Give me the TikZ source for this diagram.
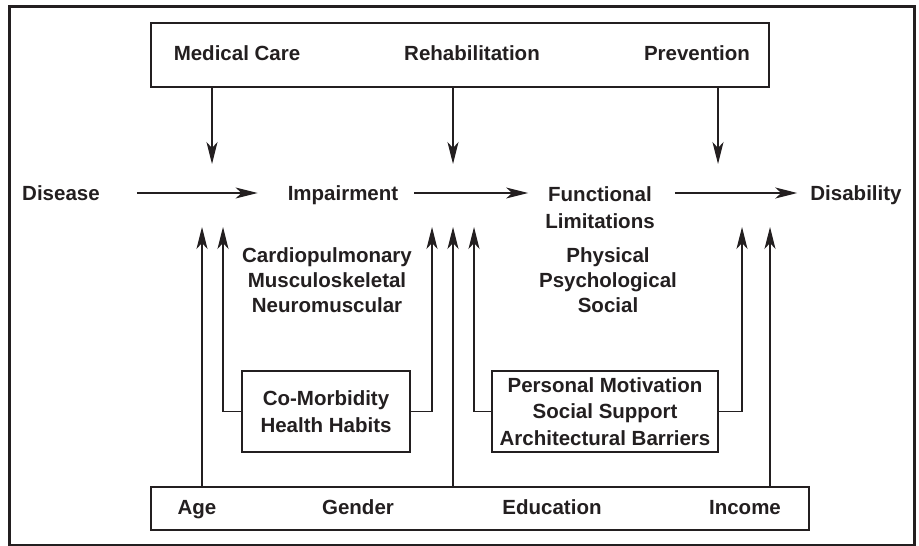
\documentclass[tikz,border=0pt]{standalone}
\usepackage{fontspec}
\setmainfont{Liberation Sans}
\usetikzlibrary{arrows.meta,positioning,calc}
\definecolor{Ink}{RGB}{35, 31, 32}

\begin{document}
\begin{tikzpicture}[x=1pt, y=-1pt, color=Ink,
  lbl/.style={font=\fontsize{20.5}{25}\selectfont\bfseries, inner sep=0pt, text height=15pt, text depth=0pt},
  stack/.style={font=\fontsize{20.5}{25}\selectfont\bfseries, inner sep=0pt, align=center, anchor=north},
  box/.style={draw, line width=1.3pt, inner sep=0pt, align=center, font=\fontsize{20.5}{26.5}\selectfont\bfseries},
  arr/.style={line width=1.2pt, -{Stealth[length=22pt, width=11pt, inset=6pt]}}]
  \useasboundingbox (0,0) rectangle (919,546);

  % Outer frame
  \draw[line width=3pt] (9,6) rectangle (914,545);

  % Interventions
  \node[box, minimum width=618pt, minimum height=64pt] (care) at (460,55) {};
  \node[lbl] (medcare) at (237,53) {Medical Care};
  \node[lbl] (rehab) at (472,53) {Rehabilitation};
  \node[lbl] (prevent) at (697,53) {Prevention};

  % Main pathway
  \node[lbl] (disease) at (61,193) {Disease};
  \node[lbl] (impair) at (343,193) {Impairment};
  \node[stack, font=\fontsize{20.5}{27}\selectfont\bfseries] (funclim) at (600,186) {Functional\\Limitations};
  \node[lbl] (disab) at (856,193) {Disability};

  \draw[arr, shorten <=37pt, shorten >=30pt] (disease.east) -- (impair.west);
  \draw[arr, shorten <=16pt, shorten >=17pt] (impair.east) -- (impair.east -| funclim.west);
  \draw[arr, shorten <=20pt, shorten >=13pt] (disab.west -| funclim.east) -- (disab.west);

  % Sub-types
  \node[stack] (organs) at (327,247) {Cardiopulmonary\\Musculoskeletal\\Neuromuscular};
  \node[stack] (domains) at (608,247) {Physical\\Psychological\\Social};

  % Arrows down from the interventions
  \coordinate (mc tip) at (212,164);
  \coordinate (rh tip) at (453,164);
  \coordinate (pv tip) at (718,164);
  \draw[arr] (care.south -| mc tip) -- (mc tip);
  \draw[arr] (care.south -| rh tip) -- (rh tip);
  \draw[arr] (care.south -| pv tip) -- (pv tip);

  % Modifying factors
  \node[box, minimum width=168pt, minimum height=81pt] (comorb) at (326,411.5) {Co-Morbidity\\Health Habits};
  \node[box, minimum width=226pt, minimum height=81pt] (social) at (605,411.5) {Personal Motivation\\Social Support\\Architectural Barriers};

  \draw[arr] (comorb.west) -| (223,227);
  \draw[arr] (comorb.east) -| (432,227);
  \draw[arr] (social.west) -| (474,227);
  \draw[arr] (social.east) -| (742,227);

  % Demographics
  \node[box, minimum width=658pt, minimum height=43pt] (demog) at (480,508.5) {};
  \node[lbl] (age) at (197,507) {Age};
  \node[lbl] (gender) at (358,507) {Gender};
  \node[lbl] (educ) at (552,507) {Education};
  \node[lbl] (income) at (745,507) {Income};

  \coordinate (ag tip) at (202,227);
  \coordinate (ed tip) at (453,227);
  \coordinate (in tip) at (770,227);
  \draw[arr] (demog.north -| ag tip) -- (ag tip);
  \draw[arr] (demog.north -| ed tip) -- (ed tip);
  \draw[arr] (demog.north -| in tip) -- (in tip);
\end{tikzpicture}
\end{document}
